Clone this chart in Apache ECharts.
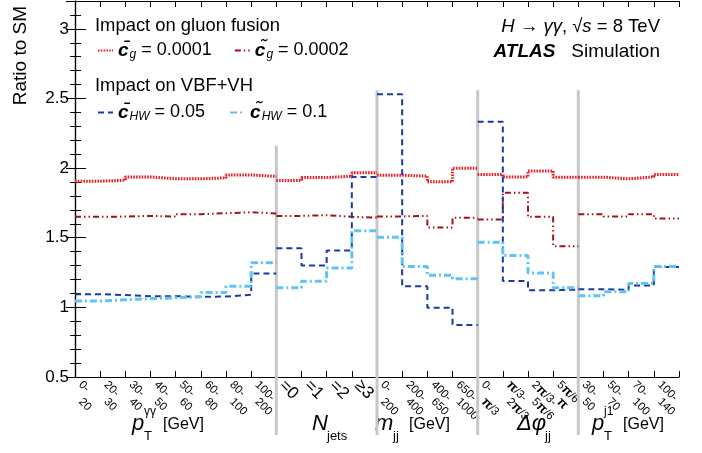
<!DOCTYPE html>
<html>
<head>
<meta charset="utf-8">
<script src="https://cdn.jsdelivr.net/npm/echarts@6/dist/echarts.min.js"></script>
<style>
  html, body { margin: 0; padding: 0; background: #fff; }
  #chart { width: 702px; height: 453px; }
</style>
</head>
<body>
<div id="chart"></div>
<script>
// bin labels, one per bin (24 bins in 5 observables)
const binLabels = [
  '0-\n20', '20-\n30', '30-\n40', '40-\n50', '50-\n60', '60-\n80', '80-\n100', '100-\n200',
  '=0', '=1', '=2', '≥3',
  '0-\n200', '200-\n400', '400-\n650', '650-\n1000',
  '0-\nπ/3', 'π/3-\n2π/3', '2π/3-\n5π/6', '5π/6-\nπ',
  '30-\n50', '50-\n70', '70-\n100', '100-\n140'
];
// first bin of each observable, plus the end
const sectionEdges = [0, 8, 12, 16, 20, 24];

// ratio to SM, per bin
const cgBar = [1.906, 1.913, 1.937, 1.923, 1.923, 1.930, 1.951, 1.940,
               1.911, 1.932, 1.942, 1.966,
               1.949, 1.942, 1.902, 1.999,
               1.954, 1.937, 1.980, 1.935,
               1.935, 1.923, 1.937, 1.954];
const cgTilde = [1.650, 1.652, 1.657, 1.652, 1.669, 1.676, 1.683, 1.674,
                 1.657, 1.662, 1.650, 1.645,
                 1.653, 1.657, 1.574, 1.643,
                 1.631, 1.823, 1.650, 1.439,
                 1.669, 1.653, 1.669, 1.638];
const chwBar = [1.095, 1.088, 1.080, 1.080, 1.076, 1.078, 1.090, 1.244,
                1.425, 1.301, 1.408, 1.937,
                2.530, 1.152, 0.998, 0.874,
                2.333, 1.190, 1.123, 1.128,
                1.130, 1.126, 1.157, 1.290];
const chwTilde = [1.045, 1.055, 1.062, 1.069, 1.076, 1.107, 1.152, 1.320,
                  1.140, 1.187, 1.282, 1.550,
                  1.503, 1.294, 1.230, 1.206,
                  1.467, 1.372, 1.247, 1.140,
                  1.083, 1.112, 1.171, 1.294];

const legendTexts = {
  cgBar: '{c|c\u0304}{s|g}{t| = 0.0001}',
  cgTilde: '{c|c\u0303}{s|g}{t| = 0.0002}',
  chwBar: '{c|c\u0304}{s|HW}{t| = 0.05}',
  chwTilde: '{c|c\u0303}{s|HW}{t| = 0.1}'
};

const sectionTitles = [
  { main: 'p', sup: 'γγ', sub: 'T', tail: '[GeV]' },
  { main: 'N', sub: 'jets' },
  { main: 'm', sub: 'jj', tail: '[GeV]' },
  { main: 'Δφ', sub: 'jj' },
  { main: 'p', sup: 'j1', sub: 'T', tail: '[GeV]' }
];

const FONT = 'Liberation Sans, Arial, sans-serif';

// histogram steps, broken between observables
function stepData(vals) {
  const out = [];
  for (let s = 0; s < sectionEdges.length - 1; s++) {
    const a = sectionEdges[s], b = sectionEdges[s + 1];
    for (let i = a; i < b; i++) out.push([i, vals[i]]);
    out.push([b, vals[b - 1]]);
    out.push([b, '-']);
  }
  return out;
}

function lineSeries(name, vals, color, width, dash) {
  return {
    name: name,
    type: 'line',
    step: 'end',
    symbol: 'none',
    connectNulls: false,
    data: stepData(vals),
    lineStyle: { color: color, width: width, type: dash },
    itemStyle: { color: color },
    z: 3
  };
}

const legendRich = {
  c: { fontFamily: FONT, fontSize: 19, fontWeight: 'bold', fontStyle: 'italic', color: '#000', lineHeight: 22 },
  s: { fontFamily: FONT, fontSize: 12, fontStyle: 'italic', color: '#000', padding: [9, 0, 0, 1], lineHeight: 22 },
  t: { fontFamily: FONT, fontSize: 18, color: '#000', lineHeight: 22 }
};

// tick labels are drawn as two separate rows, each on its own axis
const firstLines = binLabels.map(l => l.split('\n')[0]);
const secondLines = binLabels.map(l => l.split('\n')[1] || '');

function labelFmt(v) {
  if (v[0] === '=' || v[0] === '≥') return '{b|' + v + '}';
  if (!v.includes('π')) return '{n|' + v + '}';
  return v.split('π').map(p => p ? '{n|' + p + '}' : '').join('{p|π}');
}
const labelRich = {
  n: { fontFamily: FONT, fontSize: 11.5, color: '#000' },
  p: { fontFamily: FONT, fontSize: 13, fontWeight: 'bold', color: '#000' },
  b: { fontFamily: FONT, fontSize: 17, color: '#000' }
};
function labelAxis(labels, margin) {
  return {
    type: 'category', gridIndex: 1, position: 'bottom', data: labels, boundaryGap: true,
    axisLine: { show: false }, axisTick: { show: false }, splitLine: { show: false },
    axisLabel: {
      interval: 0, rotate: -45, margin: margin, align: 'left', verticalAlign: 'middle',
      formatter: labelFmt, rich: labelRich
    }
  };
}

const chart = echarts.init(document.getElementById('chart'));

const option = {
  animation: false,
  backgroundColor: '#fff',
  grid: [
    { left: 75, right: 23, top: 1, bottom: 76, containLabel: false },
    { left: 68, right: 30, top: 1, bottom: 76, containLabel: false }
  ],
  legend: [
    {
      data: ['cgBar', 'cgTilde'], left: 92, top: 35, itemWidth: 15, itemHeight: 10, itemGap: 22,
      formatter: n => legendTexts[n], textStyle: { rich: legendRich }, selectedMode: false,
      itemStyle: { opacity: 0 }
    },
    {
      data: ['chwBar', 'chwTilde'], left: 92, top: 97, itemWidth: 15, itemHeight: 10, itemGap: 24,
      formatter: n => legendTexts[n], textStyle: { rich: legendRich }, selectedMode: false,
      itemStyle: { opacity: 0 }
    }
  ],
  xAxis: [
    {
      type: 'value', position: 'bottom', min: 0, max: 24, interval: 1,
      axisLine: { show: true, lineStyle: { color: '#000', width: 1.2 } },
      axisTick: { show: true, inside: true, length: 6, lineStyle: { color: '#000' } },
      axisLabel: { show: false }, splitLine: { show: false }
    },
    {
      type: 'value', position: 'top', min: 0, max: 24, interval: 1,
      axisLine: { show: true, onZero: false, lineStyle: { color: '#000', width: 1.2 } },
      axisTick: { show: true, inside: true, length: 6, lineStyle: { color: '#000' } },
      axisLabel: { show: false }, splitLine: { show: false }
    },
    labelAxis(firstLines, 6),
    labelAxis(secondLines, 23)
  ],
  yAxis: [
    {
      type: 'value', position: 'left', min: 0.5, max: 3.2, interval: 0.5,
      axisLine: { show: true, lineStyle: { color: '#000', width: 1.2 } },
      axisTick: { show: true, inside: true, length: 11, lineStyle: { color: '#000' } },
      minorTick: { show: true, splitNumber: 5, length: 6, lineStyle: { color: '#000' } },
      axisLabel: { showMaxLabel: false, fontFamily: FONT, fontSize: 17, color: '#000', margin: 6 },
      splitLine: { show: false }
    },
    {
      type: 'value', position: 'right', min: 0.5, max: 3.2, interval: 0.5,
      axisLine: { show: true, lineStyle: { color: '#000', width: 1.2 } },
      axisTick: { show: true, inside: true, length: 9, lineStyle: { color: '#000' } },
      minorTick: { show: true, splitNumber: 5, length: 5, lineStyle: { color: '#000' } },
      axisLabel: { show: false }, splitLine: { show: false }
    },
    { type: 'value', gridIndex: 1, show: false }
  ],
  series: [
    lineSeries('cgBar', cgBar, '#ec1c24', 3, [1.6, 1.2]),
    lineSeries('cgTilde', cgTilde, '#a3121a', 2, [6, 3, 1.5, 3, 1.5, 3]),
    lineSeries('chwBar', chwBar, '#1a3aa8', 2, [6, 4]),
    lineSeries('chwTilde', chwTilde, '#5ec4f2', 3, [7, 3, 2, 3])
  ]
};

chart.setOption(option);

// gray separators and annotations
function drawExtras() {
  const g = [];
  const yBottom = chart.convertToPixel({ yAxisIndex: 0 }, 0.5);
  const tops = [2.16, 2.56, 2.56, 2.56];
  for (let s = 1; s < sectionEdges.length - 1; s++) {
    const x = chart.convertToPixel({ xAxisIndex: 0 }, sectionEdges[s]);
    const yTop = chart.convertToPixel({ yAxisIndex: 0 }, tops[s - 1]);
    g.push({
      type: 'line', z: 1,
      shape: { x1: x, y1: yTop, x2: x, y2: yBottom + 58 },
      style: { stroke: '#c8c8c8', lineWidth: 3 }
    });
  }

  // observable titles
  const titleX = [132, 312, 375, 517, 592];
  sectionTitles.forEach((t, k) => {
    const x0 = titleX[k];
    const mainW = t.main === 'Δφ' ? 28 : (t.main === 'N' ? 15 : (t.main === 'm' ? 18 : 12));
    g.push({ type: 'text', x: x0, y: 424, style: { text: t.main, font: 'italic 22px ' + FONT, fill: '#000', verticalAlign: 'middle' } });
    if (t.sup) g.push({ type: 'text', x: x0 + mainW, y: 412, style: { text: t.sup, font: '12px ' + FONT, fill: '#000', verticalAlign: 'middle' } });
    if (t.sub) g.push({ type: 'text', x: x0 + mainW, y: 436, style: { text: t.sub, font: '13px ' + FONT, fill: '#000', verticalAlign: 'middle' } });
    if (t.tail) {
      const extra = t.sup ? 19 : 16;
      g.push({ type: 'text', x: x0 + mainW + extra, y: 425, style: { text: t.tail, font: '16px ' + FONT, fill: '#000', verticalAlign: 'middle' } });
    }
  });

  // legend headers
  g.push({ type: 'text', left: 95, top: 17, style: { text: 'Impact on gluon fusion', font: '18.4px ' + FONT, fill: '#000' } });
  g.push({ type: 'text', left: 95, top: 77, style: { text: 'Impact on VBF+VH', font: '18.4px ' + FONT, fill: '#000' } });

  // top right labels
  g.push({
    type: 'text', right: 42, top: 17,
    style: {
      text: '{i|H} → {i|γγ}, √{i|s} = 8 TeV', fill: '#000', font: '18.5px ' + FONT,
      rich: { i: { fontFamily: FONT, fontSize: 18.5, fontStyle: 'italic', color: '#000' } }
    }
  });
  g.push({
    type: 'text', right: 42, top: 42,
    style: {
      text: '{b|ATLAS}   Simulation', fill: '#000', font: '19px ' + FONT,
      rich: { b: { fontFamily: FONT, fontSize: 19, fontStyle: 'italic', fontWeight: 'bold', color: '#000' } }
    }
  });

  // y axis title
  g.push({
    type: 'text', x: 21, y: 6, rotation: Math.PI / 2,
    style: { text: 'Ratio to SM', font: '19px ' + FONT, fill: '#000', align: 'right', verticalAlign: 'middle' }
  });

  chart.setOption({ graphic: g });
}
drawExtras();
</script>
</body>
</html>
